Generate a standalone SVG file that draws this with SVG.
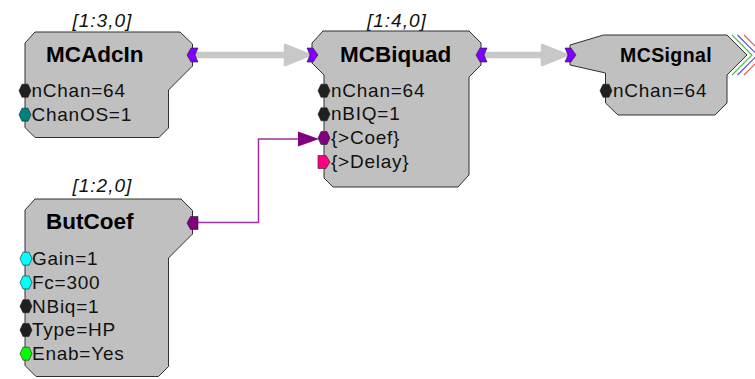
<svg xmlns="http://www.w3.org/2000/svg" xmlns:xlink="http://www.w3.org/1999/xlink" width="755" height="379" viewBox="0 0 755 379">
<style>
.body{fill:#c0c0c0;stroke:#303030;stroke-width:1;stroke-linejoin:miter}
.title{font-family:"Liberation Sans",Arial,sans-serif;font-weight:bold;font-size:22.5px;fill:#000}
.param{font-family:"Liberation Sans",Arial,sans-serif;font-size:19px;letter-spacing:0.75px;fill:#111}
.idx{font-family:"Liberation Sans",Arial,sans-serif;font-style:italic;font-size:19px;letter-spacing:1px;fill:#111}
.gray{stroke:#c8c8c8;stroke-width:6.5;fill:none;stroke-linecap:round}
.grayhead{fill:#c8c8c8;stroke:#c8c8c8;stroke-width:2.5;stroke-linejoin:round}
.pport{stroke:#202020;stroke-width:0.6}
</style>
<defs>
<path id="pp" d="M-6,0 L-3,-6.5 L3,-6.5 L6,0 L3,6.5 L-3,6.5 Z"/>
<path id="pp5" d="M-6,-6.5 L2,-6.5 L6,0 L2,6.5 L-6,6.5 Z"/>
<path id="inport" d="M-5,-7 L1,-7 L6,0 L1,7 L-5,7 L-2,0 Z"/>
<path id="outport" d="M-6,0 L-2,-7 L5,-7 L2,0 L5,7 L-2,7 Z"/>
</defs>

<g id="connectors">
  <line class="gray" x1="196" y1="55" x2="288" y2="55"/>
  <polygon class="grayhead" points="285,45 310,55 285,65"/>
  <line class="gray" x1="484" y1="55" x2="544" y2="55"/>
  <polygon class="grayhead" points="542,45 567,55 542,65"/>
  <polyline points="197,222.5 258.5,222.5 258.5,139 300,139" fill="none" stroke="#a030a0" stroke-width="1.5"/>
  <polygon points="298,131.5 319,139 298,146.5" fill="#800080"/>
</g>

<g id="MCAdcIn">
  <text class="idx" x="72.5" y="26.5">[1:3,0]</text>
  <polygon class="body" points="35,32 180,32 192.5,44 192.5,66 168.5,90 168.5,128 159,137.5 35,137.5 25,127.5 25,43"/>
  <text class="title" x="46" y="62">MCAdcIn</text>
  <use xlink:href="#outport" x="193" y="55" fill="#8000ff" class="pport"/>
  <use xlink:href="#pp" x="25" y="90.7" fill="#202020" class="pport"/>
  <text class="param" x="31.5" y="96.7">nChan=64</text>
  <use xlink:href="#pp" x="25" y="114.7" fill="#008080" class="pport"/>
  <text class="param" x="31.5" y="120.7">ChanOS=1</text>
</g>

<g id="MCBiquad">
  <text class="idx" x="367" y="26.5">[1:4,0]</text>
  <polygon class="body" points="323,31 469,31 481,43 481,65 469,77 469,175 458,187 333,187 324,178 324,75 312,63 312,43"/>
  <text class="title" x="340" y="61.7">MCBiquad</text>
  <use xlink:href="#inport" x="312" y="55" fill="#8000ff" class="pport"/>
  <use xlink:href="#outport" x="482" y="55" fill="#8000ff" class="pport"/>
  <use xlink:href="#pp" x="324" y="90.7" fill="#202020" class="pport"/>
  <text class="param" x="331" y="96.7">nChan=64</text>
  <use xlink:href="#pp" x="324" y="114.3" fill="#202020" class="pport"/>
  <text class="param" x="331" y="120.3">nBIQ=1</text>
  <use xlink:href="#pp" x="324" y="138" fill="#800080" class="pport"/>
  <text class="param" x="331" y="144">{&gt;Coef}</text>
  <use xlink:href="#pp5" x="324" y="162" fill="#ff0080" class="pport"/>
  <text class="param" x="331" y="168">{&gt;Delay}</text>
</g>

<g id="MCSignal">
  <polygon class="body" points="603.5,35 727,35 747,55 727,75 727,103 715,115 618,115 605.5,103 605.5,73 570,65 570,45"/>
  <text class="title" x="620" y="61.7" style="font-size:19.5px;letter-spacing:0.4px">MCSignal</text>
  <use xlink:href="#inport" x="570" y="55" fill="#8000ff" class="pport"/>
  <use xlink:href="#pp" x="606" y="90.7" fill="#202020" class="pport"/>
  <text class="param" x="613" y="96.7">nChan=64</text>
  <polyline points="732,35 752,55 732,75" fill="none" stroke="#50c050" stroke-width="1.2"/>
  <polyline points="737.5,35 757.5,55 737.5,75" fill="none" stroke="#5555e0" stroke-width="1.2"/>
  <polyline points="744,35 764,55 744,75" fill="none" stroke="#e05a5a" stroke-width="1.2"/>
</g>

<g id="ButCoef">
  <text class="idx" x="72.5" y="191.7">[1:2,0]</text>
  <polygon class="body" points="35,199 181,199 192.5,210.5 192.5,234 168.5,258 168.5,366.5 158.5,376.5 36,376.5 25,365.5 25,210"/>
  <text class="title" x="46" y="229">ButCoef</text>
  <path d="M187,223 L190.5,216.5 L198,216.5 L198,229.5 L190.5,229.5 Z" fill="#800080" class="pport"/>
  <use xlink:href="#pp" x="26" y="258.7" fill="#00ffff" class="pport"/>
  <text class="param" x="32" y="265">Gain=1</text>
  <use xlink:href="#pp" x="26" y="282.5" fill="#00ffff" class="pport"/>
  <text class="param" x="32" y="288.8">Fc=300</text>
  <use xlink:href="#pp" x="26" y="306.2" fill="#202020" class="pport"/>
  <text class="param" x="32" y="312.5">NBiq=1</text>
  <use xlink:href="#pp" x="26" y="330" fill="#202020" class="pport"/>
  <text class="param" x="32" y="336.3">Type=HP</text>
  <use xlink:href="#pp" x="26" y="353.7" fill="#00ff00" class="pport"/>
  <text class="param" x="32" y="360">Enab=Yes</text>
</g>
</svg>
